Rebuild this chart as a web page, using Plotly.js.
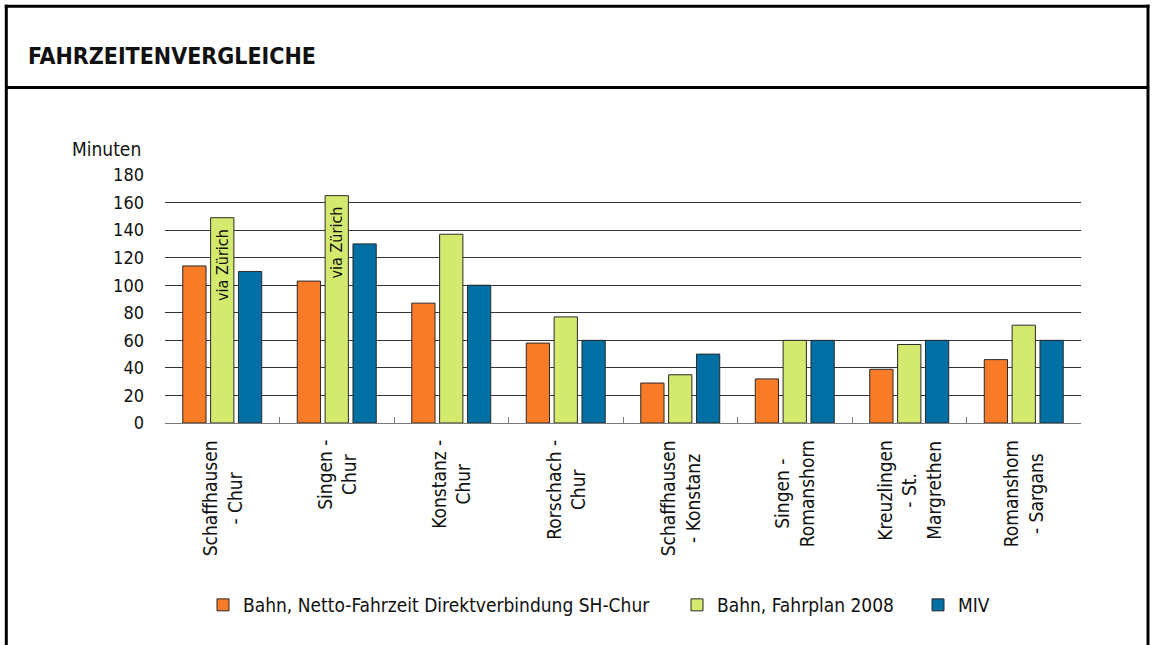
<!DOCTYPE html>
<html><head><meta charset="utf-8">
<script src="https://cdn.plot.ly/plotly-3.0.1.min.js"></script>
<style>html,body{margin:0;padding:0;background:#fff;overflow:hidden}#chart{width:1156px;height:645px}</style>
</head><body><div id="chart"></div>
<script>
// ---- data ----
const categories = ['Schaffhausen<br>- Chur','Singen -<br>Chur','Konstanz -<br>Chur','Rorschach -<br>Chur','Schaffhausen<br>- Konstanz','Singen -<br>Romanshorn','Kreuzlingen<br>- St.<br>Margrethen','Romanshorn<br>- Sargans'];
const seriesNames = ['Bahn, Netto-Fahrzeit Direktverbindung SH-Chur','Bahn, Fahrplan 2008','MIV'];
const bahnNetto = [114,103,87,58,29,32,39,46];
const bahnFahrplan = [149,165,137,77,35,60,57,71];
const miv = [110,130,100,60,50,60,60,60];
const viaNotes = ['via Zürich','via Zürich','','','','','',''];
const yTickVals = [0,20,40,60,80,100,120,140,160,180];
const titleText = 'FAHRZEITENVERGLEICHE';
const yUnit = 'Minuten';

// ---- styling ----
const FONT = '"DejaVu Sans Condensed", "DejaVu Sans", sans-serif';
const colors = ['#F97B27','#D3EA6F','#006FA4'];
const W = 1156, H = 645;
const L = 165, R = 1081, T = 175, B = 423;
const px = v => (v - L) / (R - L);
const py = v => (B - v) / (B - T);

const seriesVals = [bahnNetto, bahnFahrplan, miv];
const legendIds = ['legend','legend2','legend3'];
const traces = seriesVals.map((vals, i) => ({
  type: 'bar', x: categories, y: vals, name: seriesNames[i],
  marker: {color: colors[i], line: {color: '#2a2a2a', width: 1}},
  legend: legendIds[i], hoverinfo: 'skip'
}));

const legendX = [203, 677, 918];
const legendCommon = {orientation: 'h', xref: 'container', yref: 'container', xanchor: 'left', yanchor: 'middle',
  font: {family: FONT, size: 19, color: '#111'}, bgcolor: 'rgba(0,0,0,0)', borderwidth: 0, itemwidth: 30};

const annotations = [];
categories.forEach((c, i) => {
  annotations.push({x: c, y: 0, xref: 'x', yref: 'y', text: c, showarrow: false, textangle: -90,
    yanchor: 'top', xanchor: 'center', yshift: -15, align: 'center',
    font: {family: FONT, size: 19, color: '#111'}});
  if (viaNotes[i]) {
    annotations.push({x: c, y: bahnFahrplan[i], xref: 'x', yref: 'y', text: viaNotes[i], showarrow: false, textangle: -90,
      yanchor: 'top', xanchor: 'center', yshift: -9,
      font: {family: FONT, size: 16, color: '#111'}});
  }
});
annotations.push({xref: 'paper', yref: 'paper', x: px(143), y: py(149), xanchor: 'right', yanchor: 'middle',
  text: yUnit, showarrow: false, font: {family: FONT, size: 19, color: '#111'}});

const frame = {type: 'line', xref: 'paper', yref: 'paper', line: {color: '#000', width: 3}};
const shapes = [
  Object.assign({}, frame, {x0: px(6.3), x1: px(6.3), y0: py(4.8), y1: py(650)}),
  Object.assign({}, frame, {x0: px(1148), x1: px(1148), y0: py(4.8), y1: py(650)}),
  Object.assign({}, frame, {x0: px(4.8), x1: px(1149.5), y0: py(6.2), y1: py(6.2)}),
  Object.assign({}, frame, {x0: px(6.3), x1: px(1148), y0: py(87.4), y1: py(87.4)})
];

const layout = {
  width: W, height: H,
  margin: {l: L, r: W - R, t: T, b: H - B, pad: 0},
  paper_bgcolor: '#fff', plot_bgcolor: '#fff',
  font: {family: FONT, size: 19, color: '#111'},
  title: {text: '<b>' + titleText + '</b>', xref: 'container', yref: 'container', x: 28 / W, xanchor: 'left',
    y: 1 - 56 / H, yanchor: 'middle', font: {family: FONT, size: 23, color: '#111'}},
  barmode: 'group', bargap: 0.27, bargroupgap: 0.165,
  xaxis: {type: 'category', range: [-0.5, 7.5], showticklabels: false, ticks: 'inside', tickson: 'boundaries',
    ticklen: 6, tickcolor: '#7a7a7a', tickwidth: 1, showline: true, linecolor: '#7a7a7a', linewidth: 1,
    showgrid: false, zeroline: false, fixedrange: true},
  yaxis: {range: [0, 180], tickmode: 'array', tickvals: yTickVals, ticktext: yTickVals.map(String),
    showgrid: true, gridcolor: '#333', gridwidth: 1, zeroline: false, showline: false, ticks: '',
    ticklabelstandoff: 20, tickfont: {family: FONT, size: 18, color: '#111'}, fixedrange: true},
  annotations: annotations,
  shapes: shapes,
  showlegend: true,
  hovermode: false
};
legendIds.forEach((id, i) => {
  layout[id] = Object.assign({}, legendCommon, {x: legendX[i] / W, y: 1 - 605 / H});
});

Plotly.newPlot('chart', traces, layout, {displayModeBar: false, staticPlot: true});
</script></body></html>
